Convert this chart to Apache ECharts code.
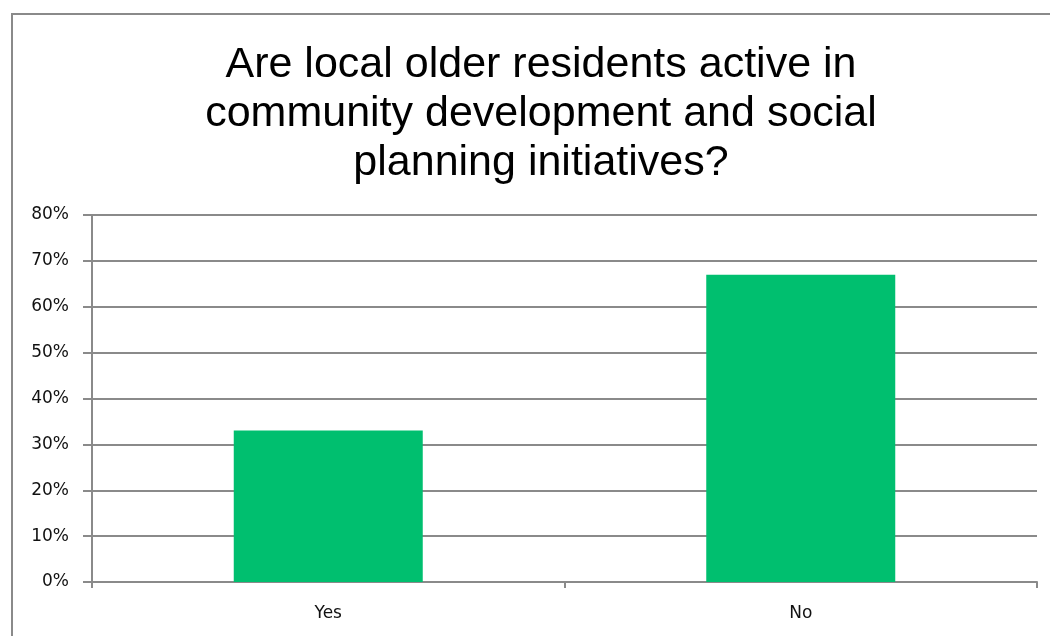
<!DOCTYPE html>
<html><head><meta charset="utf-8">
<script src="https://cdn.jsdelivr.net/npm/echarts@6/dist/echarts.min.js"></script>
<style>
html,body{margin:0;padding:0;background:#fff;}
#frame{position:absolute;left:11px;top:13px;width:1100px;height:700px;border-left:2px solid #8a8a8a;border-top:2px solid #8a8a8a;box-sizing:border-box;}
#c{position:absolute;left:0;top:0;width:1050px;height:636px;}
</style></head>
<body>
<div id="frame"></div>
<div id="c"></div>
<script>
const titleText = "Are local older residents active in\ncommunity development and social\nplanning initiatives?";
const categories = ["Yes", "No"];
const values = [33, 67];
const yTicks = [0, 10, 20, 30, 40, 50, 60, 70, 80];

const chart = echarts.init(document.getElementById('c'), null, {renderer: 'canvas'});
chart.setOption({
  backgroundColor: 'transparent',
  animation: false,
  title: {
    text: titleText,
    left: 536, top: 36, textAlign: 'center',
    textStyle: {fontFamily: 'Liberation Sans, Arial', fontSize: 43, fontWeight: 'normal', color: '#000', lineHeight: 49}
  },
  grid: {left: 92, right: 13, top: 215, bottom: 54},
  xAxis: {
    type: 'category', data: categories,
    axisLine: {lineStyle: {color: '#8a8a8a', width: 2}},
    axisTick: {show: true, length: 6, lineStyle: {color: '#8a8a8a', width: 2}},
    axisLabel: {fontFamily: 'DejaVu Sans, Verdana', fontSize: 17, color: '#111', margin: 23}
  },
  yAxis: {
    type: 'value', min: 0, max: yTicks[yTicks.length-1], interval: 10,
    axisLine: {show: true, lineStyle: {color: '#8a8a8a', width: 2}},
    axisTick: {show: true, length: 9, lineStyle: {color: '#8a8a8a', width: 2}},
    splitLine: {lineStyle: {color: '#8a8a8a', width: 2}},
    axisLabel: {formatter: v => v + '%', fontFamily: 'DejaVu Sans, Verdana', fontSize: 17, color: '#111', margin: 23}
  },
  series: [{
    type: 'bar', data: values, barWidth: '40%',
    itemStyle: {color: '#00bf6f'}
  }]
});
</script>
</body></html>
